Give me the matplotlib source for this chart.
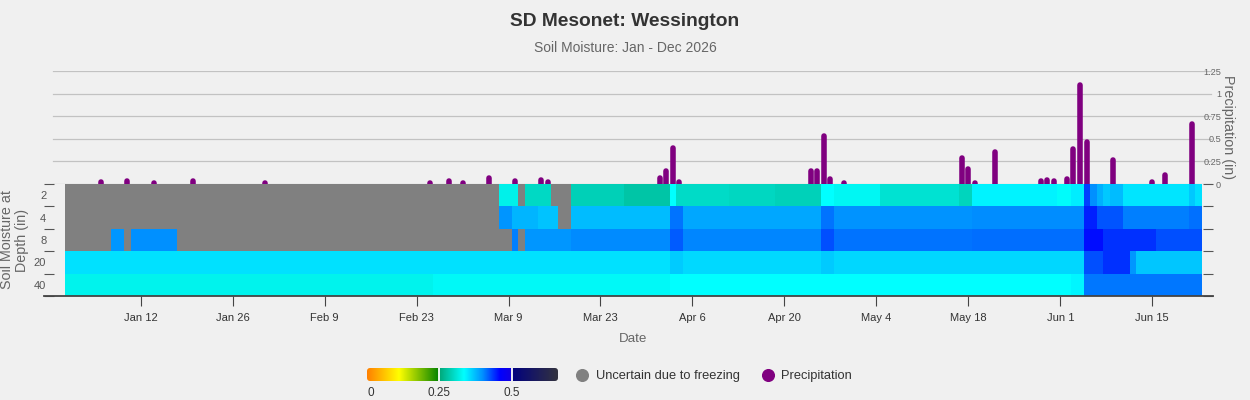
"""SD Mesonet soil-moisture heatmap with daily precipitation bars (Wessington, 2026)."""
from __future__ import annotations

import matplotlib
matplotlib.use("Agg")
import matplotlib.pyplot as plt
import numpy as np
import pandas as pd
from matplotlib.colors import ListedColormap, Normalize, to_rgb
from matplotlib.lines import Line2D
from matplotlib.patches import FancyBboxPatch

# ── data ──────────────────────────────────────────────────────── #
START_DATE = "2026-01-01"
END_DATE = "2026-06-22"
DEPTHS = ["2", "4", "8", "20", "40"]

# Soil moisture runs: (first day, last day, value), day 0 = Jan 1; None = frozen
MOIST_2IN = [
    (0, 65, None), (66, 68, 0.322), (69, 69, None), (70, 73, 0.298),
    (74, 76, None), (77, 84, 0.290), (85, 91, 0.279), (92, 92, 0.335),
    (93, 100, 0.300), (101, 107, 0.296), (108, 114, 0.291), (115, 116, 0.335),
    (117, 123, 0.328), (124, 135, 0.307), (136, 137, 0.294), (138, 150, 0.342),
    (151, 152, 0.333), (153, 154, 0.345), (155, 155, 0.433), (156, 156, 0.400),
    (157, 157, 0.381), (158, 158, 0.367), (159, 160, 0.374), (161, 170, 0.350),
    (171, 171, 0.367), (172, 172, 0.353),
]
MOIST_4IN = [
    (0, 65, None), (66, 67, 0.397), (68, 71, 0.378), (72, 74, 0.370),
    (75, 76, None), (77, 91, 0.374), (92, 93, 0.412), (94, 114, 0.386),
    (115, 116, 0.412), (117, 137, 0.398), (138, 154, 0.401), (155, 156, 0.447),
    (157, 160, 0.425), (161, 170, 0.407), (171, 172, 0.413),
]
MOIST_8IN = [
    (0, 6, None), (7, 8, 0.396), (9, 9, None), (10, 16, 0.400),
    (17, 67, None), (68, 68, 0.407), (69, 69, None), (70, 76, 0.396),
    (77, 91, 0.402), (92, 93, 0.422), (94, 114, 0.404), (115, 116, 0.427),
    (117, 137, 0.412), (138, 154, 0.414), (155, 157, 0.455), (158, 165, 0.440),
    (166, 172, 0.427),
]
MOIST_20IN = [
    (0, 91, 0.352), (92, 93, 0.365), (94, 114, 0.357), (115, 116, 0.366),
    (117, 154, 0.358), (155, 157, 0.427), (158, 161, 0.440), (162, 162, 0.396),
    (163, 172, 0.368),
]
MOIST_40IN = [
    (0, 55, 0.324), (56, 91, 0.330), (92, 152, 0.335), (153, 154, 0.340),
    (155, 172, 0.410),
]
MOISTURE = [MOIST_2IN, MOIST_4IN, MOIST_8IN, MOIST_20IN, MOIST_40IN]

PRECIP_DATES = [
    "2026-01-06", "2026-01-10", "2026-01-14", "2026-01-20", "2026-01-31",
    "2026-02-25", "2026-02-28", "2026-03-02", "2026-03-06", "2026-03-10",
    "2026-03-14", "2026-03-15", "2026-04-01", "2026-04-02", "2026-04-03",
    "2026-04-04", "2026-04-24", "2026-04-25", "2026-04-26", "2026-04-27",
    "2026-04-29", "2026-05-17", "2026-05-18", "2026-05-19", "2026-05-22",
    "2026-05-29", "2026-05-30", "2026-05-31", "2026-06-02", "2026-06-03",
    "2026-06-04", "2026-06-05", "2026-06-09", "2026-06-15", "2026-06-17",
    "2026-06-21",
]
PRECIP_IN = [
    0.02, 0.03, 0.01, 0.03, 0.01,
    0.01, 0.03, 0.01, 0.07, 0.03,
    0.04, 0.02, 0.07, 0.14, 0.40,
    0.02, 0.14, 0.14, 0.53, 0.06,
    0.01, 0.29, 0.17, 0.01, 0.35,
    0.03, 0.04, 0.03, 0.05, 0.39,
    1.10, 0.47, 0.27, 0.02, 0.10,
    0.67,
]
PRECIP_TICKS = [0, 0.25, 0.5, 0.75, 1, 1.25]
DATE_TICK_START = "2026-01-12"
DATE_TICK_COUNT = 12
CBAR_TICKS = [0, 0.25, 0.5]
CBAR_MAX = 0.66

# ── style ─────────────────────────────────────────────────────── #
_COLORS = {
    "bg":     "#f0f0f0",
    "frozen": "#808080",
    "precip": "#800080",
    "grid":   "#c2c2c2",
    "title":  "#333333",
    "muted":  "#666666",
    "axis":   "#444444",
}
# colour ramp pieces, hard steps at 0.25 and 0.5
_RAMP = [
    [(0.00, "#ff8000"), (0.11, "#ffff00"), (0.25, "#008000")],
    [(0.25, "#00a878"), (0.335, "#00ffff"), (0.40, "#0090ff"),
     (0.46, "#0000ff"), (0.50, "#1400e0")],
    [(0.50, "#000080"), (0.66, "#33333f")],
]

W, H = 1250, 400


def _build_cmap() -> ListedColormap:
    vals = np.linspace(0, CBAR_MAX, 661)
    out = []
    for v in vals:
        seg = _RAMP[0] if v < 0.25 else _RAMP[1] if v < 0.5 else _RAMP[2]
        xs = [p for p, _ in seg]
        rgb = np.array([to_rgb(c) for _, c in seg])
        out.append([np.interp(v, xs, rgb[:, k]) for k in range(3)])
    return ListedColormap(out).with_extremes(bad=_COLORS["frozen"])


def _fx(px):  # pixel x -> figure fraction
    return px / W


def _fy(py):  # pixel y (from top) -> figure fraction
    return 1 - py / H


def plot(output_path="out.png"):
    plt.rcParams["font.family"] = ["Liberation Sans", "DejaVu Sans"]

    days = pd.date_range(START_DATE, END_DATE)
    start = days[0]
    grid = np.full((len(DEPTHS), len(days)), np.nan)
    for row, runs in enumerate(MOISTURE):
        for first, last, val in runs:
            grid[row, first:last + 1] = np.nan if val is None else val

    p_days = [(pd.Timestamp(d) - start).days for d in PRECIP_DATES]
    tick_dates = pd.date_range(DATE_TICK_START, periods=DATE_TICK_COUNT, freq="14D")
    tick_days = [(d - start).days for d in tick_dates]
    tick_labels = [f"{d:%b} {d.day}" for d in tick_dates]

    cmap = _build_cmap()
    norm = Normalize(0, CBAR_MAX)
    xlim = (-3.74, 174.24)

    fig = plt.figure(figsize=(W / 100, H / 100), dpi=100, facecolor=_COLORS["bg"])

    # ── heatmap ───────────────────────────────────────────── #
    ax = fig.add_axes([_fx(43.8), _fy(296), _fx(1213 - 43.8), (296 - 184) / H])
    ax.set_facecolor("none")
    ax.imshow(np.ma.masked_invalid(grid), cmap=cmap, norm=norm, aspect="auto",
              interpolation="nearest", extent=(-0.5, len(days) - 0.5, len(DEPTHS), 0))
    ax.set_xlim(*xlim)
    ax.set_ylim(len(DEPTHS), 0)
    for side in ("top", "left", "right"):
        ax.spines[side].set_visible(False)
    ax.spines["bottom"].set_color(_COLORS["axis"])
    ax.spines["bottom"].set_linewidth(1.3)

    ax.set_xticks(tick_days)
    ax.set_xticklabels(tick_labels)
    ax.tick_params(axis="x", direction="out", length=7, width=0.8,
                   color=_COLORS["axis"], labelsize=8, labelcolor="#333333", pad=5)

    ax.set_yticks(np.arange(len(DEPTHS) + 1))
    ax.set_yticklabels([])
    ax.tick_params(axis="y", which="major", direction="in", length=7.5, width=0.8,
                   color="#555555", left=True, right=True)
    ax.set_yticks(np.arange(len(DEPTHS)) + 0.5, minor=True)
    ax.set_yticklabels(DEPTHS, minor=True)
    ax.tick_params(axis="y", which="minor", length=0, labelsize=8,
                   labelcolor="#555555", pad=-1.8)

    fig.text(_fx(14.5), _fy(240), "Soil Moisture at\nDepth (in)", rotation=90,
             ha="center", va="center", fontsize=10.3, color=_COLORS["muted"],
             linespacing=1.05)
    fig.text(_fx(633), _fy(338.5), "Date", ha="center", va="center",
             fontsize=9.6, color=_COLORS["muted"])

    # ── precipitation ─────────────────────────────────────── #
    axp = fig.add_axes([_fx(43.8), _fy(184), _fx(1213 - 43.8), (184 - 71.3) / H])
    axp.set_facecolor("none")
    axp.set_xlim(*xlim)
    axp.set_ylim(0, 1.25)
    for s in axp.spines.values():
        s.set_visible(False)
    gx0 = (53.3 - 43.8) / (1213 - 43.8)
    gx1 = (1211 - 43.8) / (1213 - 43.8)
    for t in PRECIP_TICKS:
        axp.axhline(t, xmin=gx0, xmax=gx1, color=_COLORS["grid"], linewidth=0.9, zorder=0)
    bars = axp.vlines(p_days, 0, PRECIP_IN, color=_COLORS["precip"], linewidth=4, zorder=3)
    bars.set_capstyle("round")
    axp.set_xticks([])
    axp.yaxis.tick_right()
    axp.set_yticks(PRECIP_TICKS)
    axp.set_yticklabels([f"{t:g}" for t in PRECIP_TICKS])
    axp.tick_params(axis="y", length=0, labelsize=6.6, labelcolor=_COLORS["muted"], pad=5.8)
    for lab in axp.get_yticklabels():
        lab.set_horizontalalignment("right")
    fig.text(_fx(1228), _fy(127), "Precipitation (in)", rotation=270,
             ha="center", va="center", fontsize=10.3, color=_COLORS["muted"])

    # ── titles ────────────────────────────────────────────── #
    fig.text(0.5, _fy(22), "SD Mesonet: Wessington", ha="center", va="center",
             fontsize=13.8, fontweight="bold", color=_COLORS["title"])
    fig.text(0.5, _fy(48), "Soil Moisture: Jan - Dec 2026", ha="center", va="center",
             fontsize=10, color=_COLORS["muted"])

    # ── legend ────────────────────────────────────────────── #
    cb_l, cb_r, cb_t, cb_b = 367, 558, 368, 381
    cax = fig.add_axes([_fx(cb_l), _fy(cb_b), _fx(cb_r - cb_l), (cb_b - cb_t) / H])
    cax.set_axis_off()
    ytop = CBAR_MAX * (cb_b - cb_t) / (cb_r - cb_l)
    img = cax.imshow(np.linspace(0, CBAR_MAX, 400)[None, :], cmap=cmap, norm=norm,
                     aspect="auto", extent=(0, CBAR_MAX, 0, ytop), interpolation="bilinear")
    cax.set_xlim(0, CBAR_MAX)
    cax.set_ylim(0, ytop)
    clip = FancyBboxPatch((0, 0), CBAR_MAX, ytop, boxstyle=f"round,pad=0,rounding_size={ytop * 0.25}",
                          transform=cax.transData, facecolor="none", edgecolor="none")
    cax.add_patch(clip)
    img.set_clip_path(clip)
    for t in CBAR_TICKS[1:]:
        cax.axvline(t, color="white", linewidth=1.3)
    for t in CBAR_TICKS:
        px = cb_l + t / CBAR_MAX * (cb_r - cb_l)
        fig.text(_fx(px), _fy(399.5), f"{t:g}", ha="left" if t == 0 else "center",
                 va="bottom", fontsize=8.5, color="#333333")

    for cx, label, col in ((582, "Uncertain due to freezing", _COLORS["frozen"]),
                           (767.7, "Precipitation", _COLORS["precip"])):
        fig.add_artist(Line2D([_fx(cx)], [_fy(374.5)], marker="o", markersize=8.4,
                              color=col, linestyle="none", transform=fig.transFigure))
        fig.text(_fx(cx + 13.5), _fy(375), label, ha="left", va="center_baseline",
                 fontsize=9.3, color="#333333")

    fig.savefig(output_path, dpi=100, facecolor=fig.get_facecolor())
    plt.close(fig)


if __name__ == "__main__":
    plot("out.png")
